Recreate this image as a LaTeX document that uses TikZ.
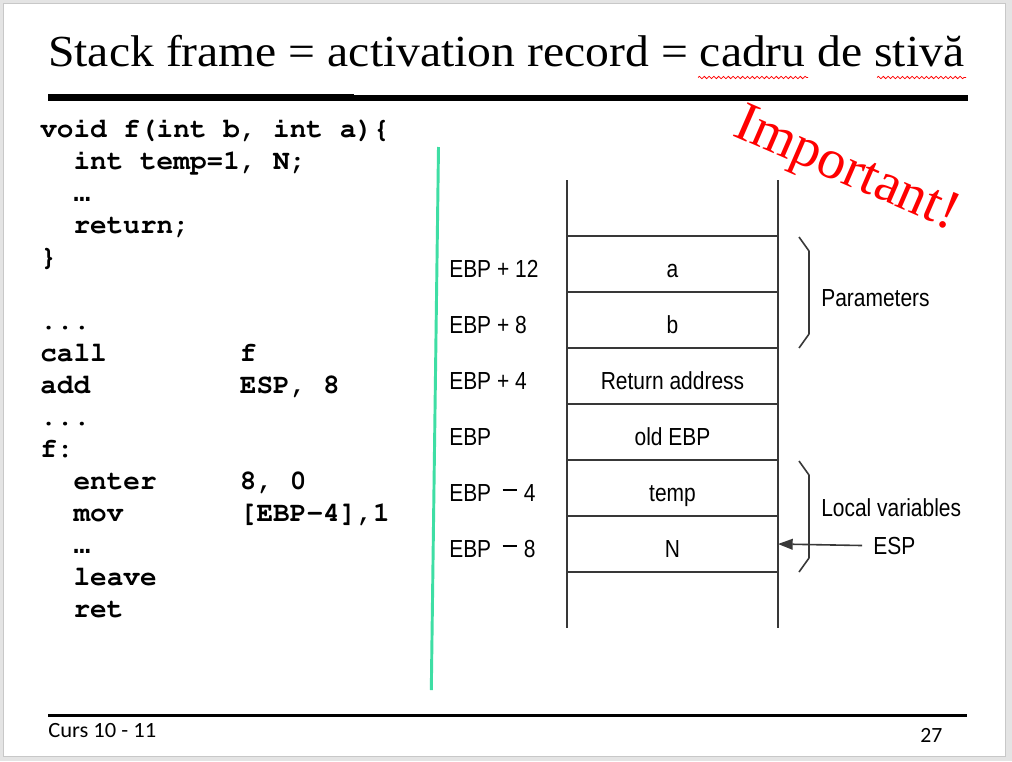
\documentclass[tikz,border=0pt]{standalone}
\usepackage[T1]{fontenc}
\usepackage{fontspec}
\setmainfont{Liberation Serif}
\newfontfamily\ellfont{Liberation Mono}
\newfontfamily\figfont[FakeStretch=0.85]{Liberation Sans}
\newfontfamily\footfont{Carlito}
\usetikzlibrary{arrows.meta,decorations.pathmorphing}

\definecolor{linecol}{HTML}{383838}
\definecolor{mint}{RGB}{62,222,164}
\definecolor{framegray}{HTML}{E4E4E4}
\definecolor{frameline}{HTML}{C8C8C8}

% Courier bold for the listings
\newcommand\codefont{\fontencoding{T1}\fontfamily{pcr}\fontseries{b}\selectfont}
% small ellipsis glyph
\newcommand\cell{{\ellfont\bfseries …}}

% scale a box horizontally to a given width
\newsavebox\fitbox
\newcommand\fitwidth[2]{%
  \sbox\fitbox{#2}%
  \pgfmathsetmacro\fitratio{(#1)/(\the\wd\fitbox)}%
  \scalebox{\fitratio}[1]{\usebox\fitbox}}

% long minus used in the negative offsets
\newcommand\lminus{\hspace{8.5pt}\rule[7.7pt]{11pt}{1.1pt}\hspace{5pt}}

\tikzset{
  code/.style={anchor=base west, inner sep=0pt,
    font=\fontsize{20.8pt}{25pt}\codefont},
  cellbox/.style={draw=linecol, line width=1.5pt, outer sep=0pt, inner sep=0pt,
    minimum width=158.25pt, minimum height=42pt,
    text height=19.5pt, text depth=0pt,
    font=\figfont\fontsize{18.5pt}{22pt}\selectfont},
  lbl/.style={anchor=base west, inner sep=0pt,
    font=\figfont\fontsize{18.5pt}{22pt}\selectfont},
  wall/.style={draw=linecol, line width=1.5pt},
  brace/.style={draw=linecol, line width=1.2pt, line join=round},
  spell/.style={draw=red, line width=0.55pt, decorate,
    decoration={snake, amplitude=0.9pt, segment length=3.6pt}}
}

\begin{document}
\begin{tikzpicture}[x=0.75pt,y=-0.75pt]
\useasboundingbox (0,0) rectangle (1012,761);

% slide background and frame
\fill[framegray] (0,0) rectangle (1012,761);
\draw[fill=white, draw=frameline, line width=0.75pt] (3.5,3.5) rectangle (1005.5,756.5);

% title with rule
\node[anchor=base west, inner sep=0pt] (title) at (48,66.5)
  {\fitwidth{687pt}{\fontsize{33.3pt}{40pt}\selectfont Stack frame = activation record = cadru de stivă}};
\draw[spell] (698,77.5) -- (808,77.5);
\draw[spell] (877,77.5) -- (966,77.5);
\fill (48,94) rectangle (354,101);
\fill (354,95) rectangle (968,101);

% source code and assembly
\node[code] (k0)  at (40,137) {void f(int b, int a)\{};
\node[code] (k1)  at (40,169) {~~int temp=1, N;};
\node[code] (k2)  at (40,201) {~~\cell};
\node[code] (k3)  at (40,233) {~~return;};
\node[code] (k4)  at (40,265) {\}};
\node[code] (k6)  at (40,329) {...};
\node[code] (k7)  at (40,361) {call~~~~~~~~f};
\node[code] (k8)  at (40,393) {add~~~~~~~~~ESP, 8};
\node[code] (k9)  at (40,425) {...};
\node[code] (k10) at (40,457) {f:};
\node[code] (k11) at (40,489) {~~enter~~~~~8, 0};
\node[code] (k12) at (40,521) {~~mov~~~~~~~[EBP-4],1};
\node[code] (k13) at (40,553) {~~\cell};
\node[code] (k14) at (40,585) {~~leave};
\node[code] (k15) at (40,617) {~~ret};

% separator
\coordinate (sepTop) at (438.5,147);
\coordinate (sepBot) at (431.3,690);
\draw[mint, line width=2.2pt] (sepTop) -- (sepBot);

% stack cells
\node[cellbox] (c1) at (672.5,264) {a};
\node[cellbox] (c2) at (672.5,320) {b};
\node[cellbox] (c3) at (672.5,376) {Return address};
\node[cellbox] (c4) at (672.5,432) {old EBP};
\node[cellbox] (c5) at (672.5,488) {temp};
\node[cellbox] (c6) at (672.5,544) {N};

\coordinate (wallTL) at (567,180);
\coordinate (wallTR) at (778,180);
\coordinate (wallBL) at (567,628);
\coordinate (wallBR) at (778,628);
\draw[wall] (c1.north west) -- (wallTL);
\draw[wall] (c1.north east) -- (wallTR);
\draw[wall] (c6.south west) -- (wallBL);
\draw[wall] (c6.south east) -- (wallBR);

% offsets relative to EBP
\node[lbl] (l1) at (449,277) {EBP + 12};
\node[lbl] (l2) at (449,333) {EBP + 8};
\node[lbl] (l3) at (449,389) {EBP + 4};
\node[lbl] (l4) at (449,445) {EBP};
\node[lbl] (l5) at (449,501) {EBP\lminus 4};
\node[lbl] (l6) at (449,557) {EBP\lminus 8};

% groups
\draw[brace] (799,237) -- (809,251) -- (809,334) -- (799,348);
\draw[brace] (799,461) -- (809,475) -- (809,558) -- (799,572);
\node[lbl] (par) at (821,306) {Parameters};
\node[lbl] (loc) at (821,516) {Local variables};
\node[lbl] (esp) at (873,554) {ESP};
\draw[draw=linecol, line width=1.2pt, -{Triangle[length=11pt,width=8pt]}]
  ([xshift=-8.25pt]esp.west) -- (c6.east);

% stamp
\node[anchor=base west, inner sep=0pt, rotate=-23.5, text=red,
  font=\fontsize{42pt}{49pt}\selectfont] (imp) at (731,135) {Important!};

% footer
\fill (48,714) rectangle (967,717);
\node[anchor=base west, inner sep=0pt] (foot) at (48,737)
  {\fitwidth{81pt}{\footfont\fontsize{16.3pt}{20pt}\selectfont Curs 10 - 11}};
\node[anchor=base west, inner sep=0pt, font=\footfont\fontsize{16.3pt}{20pt}\selectfont]
  (page) at (920,742) {27};
\end{tikzpicture}
\end{document}
